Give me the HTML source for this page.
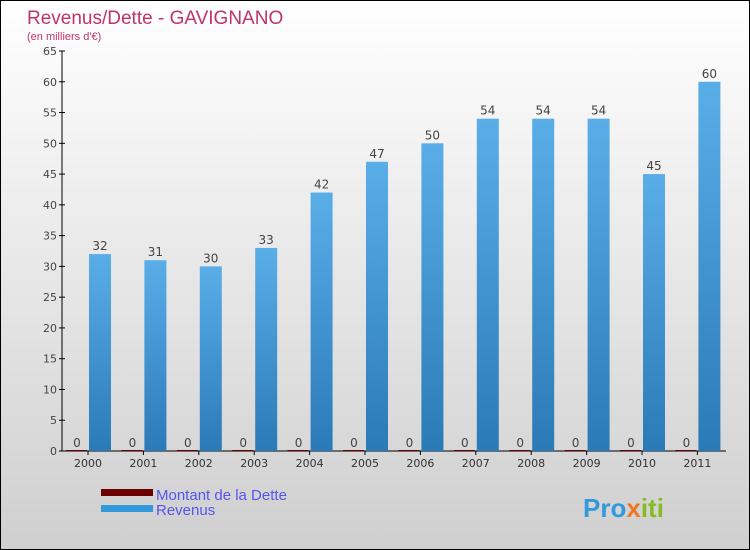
<!DOCTYPE html>
<html><head><meta charset="utf-8"><style>
body{margin:0}
#c{width:748px;height:548px;border:1px solid #000;background:linear-gradient(#fff,#cfcfcf);position:relative;font-family:"DejaVu Sans","Liberation Sans",sans-serif;overflow:hidden}
</style></head><body>
<div id="c">
<svg id="s" width="748" height="548" style="position:absolute;left:0;top:0">
<text x="26" y="23" font-size="19" fill="#c0336a" font-family="Liberation Sans, sans-serif">Revenus/Dette - GAVIGNANO</text>
<text x="26" y="39" font-size="11" fill="#c0336a" font-family="Liberation Sans, sans-serif">(en milliers d'€)</text>
<g id="g"></g>
<rect x="100" y="488" width="52" height="7" fill="#6b0000"/>
<rect x="100" y="504" width="52" height="7" fill="#3399dd"/>
<text x="155" y="499" font-size="15" fill="#5555ee" font-family="Liberation Sans, sans-serif">Montant de la Dette</text>
<text x="155" y="514" font-size="15" fill="#5555ee" font-family="Liberation Sans, sans-serif">Revenus</text>
<text x="582" y="516" font-size="26" font-weight="bold" fill="#3399dd" font-family="Liberation Sans, sans-serif">Pro<tspan fill="#ee7722">x</tspan><tspan fill="#88bb22">iti</tspan></text>
</svg>
</div>
<script>
const years=["2000","2001","2002","2003","2004","2005","2006","2007","2008","2009","2010","2011"];
const revenus=[32,31,30,33,42,47,50,54,54,54,45,60];
const dette=[0,0,0,0,0,0,0,0,0,0,0,0];
const yTicks=[0,5,10,15,20,25,30,35,40,45,50,55,60,65];
const NS="http://www.w3.org/2000/svg";
const g=document.getElementById('g');
const y=v=>450-v*400/65;
const x=i=>87+i*55.4;
function mk(t,a){const e=document.createElementNS(NS,t);for(const k in a)e.setAttribute(k,a[k]);g.appendChild(e);return e;}
let ax=mk('line',{x1:61,y1:y(65),x2:61,y2:450,stroke:'#000'});


let xa=mk('line',{x1:61,y1:450,x2:725,y2:450,stroke:'#000'});


yTicks.forEach(v=>{
 const t=mk('line',{x1:58,x2:64,y1:y(v),y2:y(v),stroke:'#000'});
 
 
 const l=mk('text',{x:56,y:y(v)+4,'font-size':11,fill:'#444','text-anchor':'end'});l.textContent=v;
 
 
});
years.forEach((yr,i)=>{
 const cx=x(i);
 const t=mk('line',{x1:cx,x2:cx,y1:450,y2:454,stroke:'#000'});
 
 
 const l=mk('text',{x:cx,y:466,'font-size':11,fill:'#333','text-anchor':'middle'});l.textContent=yr;
 
 
 const d=mk('rect',{x:cx-22,y:y(dette[i])-1,width:21,height:Math.max(1,450-y(dette[i])),fill:'#6b0000'});
 
 
 const dl=mk('text',{x:cx-11,y:y(dette[i])-4,'font-size':12,fill:'#444','text-anchor':'middle'});dl.textContent=dette[i];
 
 
 const r=mk('rect',{x:cx+1,y:y(revenus[i]),width:22,height:450-y(revenus[i]),fill:'url(#bg)'});
 
 
 const rl=mk('text',{x:cx+12,y:y(revenus[i])-4,'font-size':12,fill:'#444','text-anchor':'middle'});rl.textContent=revenus[i];
 
 
});
const defs=document.createElementNS(NS,'defs');
defs.innerHTML='<linearGradient id="bg" x1="0" y1="0" x2="0" y2="1"><stop offset="0" stop-color="#5aaee8"/><stop offset="1" stop-color="#2a7ab8"/></linearGradient>';
document.getElementById('s').insertBefore(defs,document.getElementById('s').firstChild);
</script>
</body></html>
